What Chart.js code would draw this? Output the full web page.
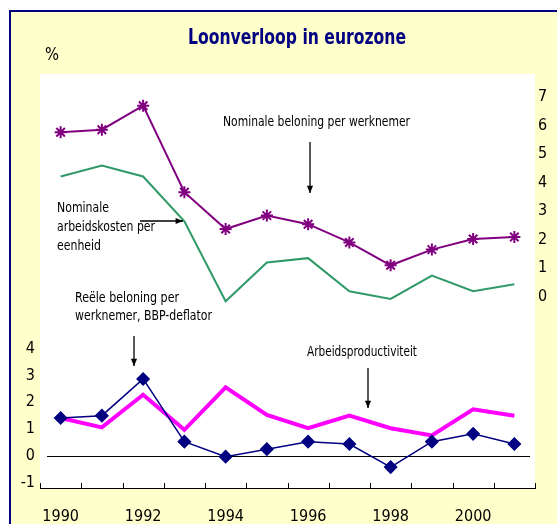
<!DOCTYPE html>
<html lang="nl">
<head>
    <meta charset="UTF-8">
    <title>Loonverloop in eurozone</title>
    <script src="https://cdn.jsdelivr.net/npm/chart.js"></script>
    <style>
        body { margin: 0; background: #ffffff; }
        #kader {
            position: absolute; left: 9px; top: 10px; width: 620px; height: 600px;
            border: 2px solid #000080; background: #ffffcc;
        }
        #grafiek { position: absolute; left: 0; top: 0; }
    </style>
</head>
<body>
    <div id="kader"></div>
    <canvas id="grafiek" width="557" height="524"></canvas>

    <script>
        // data
        const jaren = ['1990', '1991', '1992', '1993', '1994', '1995', '1996', '1997', '1998', '1999', '2000', '2001'];
        const nominaleBeloning = [5.76, 5.85, 6.69, 3.66, 2.37, 2.84, 2.54, 1.90, 1.10, 1.65, 2.02, 2.09];
        const arbeidskosten = [4.21, 4.59, 4.21, 2.64, -0.16, 1.20, 1.35, 0.19, -0.08, 0.74, 0.19, 0.44];
        const reeleBeloning = [1.41, 1.50, 2.87, 0.53, -0.03, 0.25, 0.53, 0.44, -0.42, 0.53, 0.82, 0.44];
        const productiviteit = [1.41, 1.06, 2.28, 0.97, 2.56, 1.53, 1.03, 1.50, 1.03, 0.76, 1.74, 1.50];
        const ticksLinks = [-1, 0, 1, 2, 3, 4];
        const ticksRechts = [0, 1, 2, 3, 4, 5, 6, 7];

        const titel = 'Loonverloop in eurozone';
        const smal = "'Liberation Sans Narrow', 'Arial Narrow', 'DejaVu Sans Condensed', sans-serif";

        // witte plotvlak + nullijn + tickjes op de x-as
        const achtergrond = {
            id: 'achtergrond',
            beforeDraw(chart) {
                const { ctx, chartArea: a } = chart;
                ctx.save();
                ctx.fillStyle = '#ffffff';
                ctx.fillRect(a.left, a.top, a.right - a.left, a.bottom - a.top);
                ctx.restore();
            },
            beforeDatasetsDraw(chart) {
                const { ctx, chartArea: a, scales } = chart;
                const y0 = Math.round(scales.y.getPixelForValue(0)) + 0.5;
                ctx.save();
                ctx.strokeStyle = '#000000';
                ctx.lineWidth = 1;
                ctx.beginPath();
                ctx.moveTo(a.left + 7, y0);
                ctx.lineTo(a.right - 5, y0);
                ctx.stroke();
                // tickjes tussen de jaren, naar binnen
                const stap = scales.x.getPixelForValue(1) - scales.x.getPixelForValue(0);
                for (let i = 0; i <= jaren.length; i++) {
                    const x = Math.round(scales.x.getPixelForValue(0) - stap / 2 + i * stap) + 0.5;
                    ctx.beginPath();
                    ctx.moveTo(x, a.bottom);
                    ctx.lineTo(x, a.bottom - 5);
                    ctx.stroke();
                }
                ctx.restore();
            }
        };

        function pijl(ctx, x1, y1, x2, y2) {
            const hoek = Math.atan2(y2 - y1, x2 - x1);
            ctx.beginPath();
            ctx.moveTo(x1, y1);
            ctx.lineTo(x2, y2);
            ctx.stroke();
            ctx.beginPath();
            ctx.moveTo(x2, y2);
            ctx.lineTo(x2 - 8 * Math.cos(hoek - 0.4), y2 - 8 * Math.sin(hoek - 0.4));
            ctx.lineTo(x2 - 8 * Math.cos(hoek + 0.4), y2 - 8 * Math.sin(hoek + 0.4));
            ctx.closePath();
            ctx.fill();
        }

        // titel, teksten en pijlen
        const labels = {
            id: 'labels',
            afterDraw(chart) {
                const ctx = chart.ctx;
                ctx.save();
                ctx.textBaseline = 'middle';
                ctx.fillStyle = '#000080';
                ctx.font = 'bold 22px ' + smal;
                ctx.textAlign = 'center';
                ctx.fillText(titel, 297, 38, 218);
                ctx.textAlign = 'left';

                ctx.fillStyle = '#000000';
                ctx.strokeStyle = '#000000';
                ctx.lineWidth = 1.3;
                ctx.font = '17px ' + smal;
                ctx.fillText('%', 45, 56, 14);

                ctx.font = '14px ' + smal;
                ctx.fillText('Nominale beloning per werknemer', 223, 122, 187);
                pijl(ctx, 310, 142, 310, 193);

                ctx.fillText('Nominale', 57, 208, 52);
                ctx.fillText('arbeidskosten per', 57, 227, 98);
                ctx.fillText('eenheid', 57, 246, 44);
                pijl(ctx, 140, 221, 183, 221);

                ctx.fillText('Reële beloning per', 75, 298, 104);
                ctx.fillText('werknemer, BBP-deflator', 75, 316, 137);
                pijl(ctx, 134, 336, 134, 366);

                ctx.fillText('Arbeidsproductiviteit', 307, 352, 110);
                pijl(ctx, 368, 368, 368, 408);
                ctx.restore();
            }
        };

        const config = {
            type: 'line',
            data: {
                labels: jaren,
                datasets: [{
                    label: 'Nominale beloning per werknemer',
                    data: nominaleBeloning,
                    yAxisID: 'y1',
                    borderColor: '#800080',
                    backgroundColor: '#800080',
                    borderWidth: 2,
                    pointStyle: 'star',
                    pointRadius: 6,
                    pointBorderWidth: 2,
                    tension: 0
                }, {
                    label: 'Nominale arbeidskosten per eenheid',
                    data: arbeidskosten,
                    yAxisID: 'y1',
                    borderColor: '#2f9a68',
                    borderWidth: 2,
                    pointRadius: 0,
                    tension: 0
                }, {
                    label: 'Reële beloning per werknemer, BBP-deflator',
                    data: reeleBeloning,
                    yAxisID: 'y',
                    borderColor: '#000080',
                    backgroundColor: '#000080',
                    borderWidth: 1.5,
                    pointStyle: 'rectRot',
                    pointRadius: 6,
                    tension: 0
                }, {
                    label: 'Arbeidsproductiviteit',
                    data: productiviteit,
                    yAxisID: 'y',
                    borderColor: '#ff00ff',
                    borderWidth: 4,
                    pointRadius: 0,
                    tension: 0
                }]
            },
            options: {
                responsive: false,
                animation: false,
                layout: { padding: { top: 74 } },
                plugins: {
                    legend: { display: false },
                    tooltip: { enabled: false },
                    title: { display: false }
                },
                scales: {
                    x: {
                        offset: true,
                        grid: { display: false, drawTicks: false },
                        border: { display: true, color: '#000000', width: 1 },
                        ticks: {
                            autoSkip: false,
                            maxRotation: 0,
                            padding: 19,
                            color: '#000000',
                            font: { family: smal, size: 16 },
                            callback: (v, i) => i % 2 === 0 ? jaren[i] : ''
                        },
                        afterFit: s => { s.height = 36; }
                    },
                    y: {
                        position: 'left',
                        min: -1.2,
                        max: 14.25,
                        grid: { display: false, drawTicks: false },
                        border: { display: false },
                        ticks: { padding: 5, color: '#000000', font: { family: smal, size: 16 } },
                        afterBuildTicks: s => { s.ticks = ticksLinks.map(v => ({ value: v })); },
                        afterFit: s => { s.width = 40; }
                    },
                    y1: {
                        position: 'right',
                        min: -6.7,
                        max: 7.8,
                        grid: { display: false, drawTicks: false },
                        border: { display: false },
                        ticks: { padding: 3, color: '#000000', font: { family: smal, size: 16 } },
                        afterBuildTicks: s => { s.ticks = ticksRechts.map(v => ({ value: v })); },
                        afterFit: s => { s.width = 22; }
                    }
                }
            },
            plugins: [achtergrond, labels]
        };

        new Chart(document.getElementById('grafiek').getContext('2d'), config);
    </script>
</body>
</html>
